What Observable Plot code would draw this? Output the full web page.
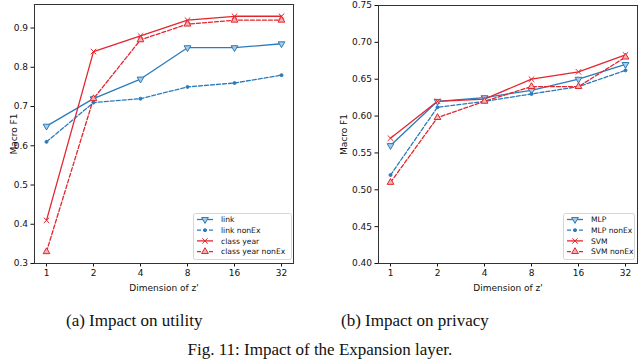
<!DOCTYPE html>
<html>
<head>
<meta charset="utf-8">
<script src="https://cdn.jsdelivr.net/npm/d3@7"></script>
<script src="https://cdn.jsdelivr.net/npm/@observablehq/plot@0.6"></script>
<style>
  body { margin: 0; background: #fff; }
  #wrap { position: relative; width: 640px; height: 362px; overflow: hidden; background: #fff; }
  .panel { position: absolute; top: 0; }
  .cap { position: absolute; font-family: "Liberation Serif", "Times New Roman", serif; font-size: 17px; line-height: 18px; color: #111; white-space: nowrap; }
  .legend { position: absolute; }
</style>
</head>
<body>
<div id="wrap"></div>
<script>
// ---- data ----
const dims = ["1", "2", "4", "8", "16", "32"];

// (a) utility
const linkVals          = [0.65, 0.72, 0.77, 0.85, 0.85, 0.86];
const linkNonExVals     = [0.61, 0.71, 0.72, 0.75, 0.76, 0.78];
const classYearVals     = [0.41, 0.84, 0.88, 0.92, 0.93, 0.93];
const classYearNonExVals= [0.33, 0.72, 0.87, 0.91, 0.92, 0.92];
const utilityNames = ["link", "link nonEx", "class year", "class year nonEx"];
const utilityTicks = [0.3, 0.4, 0.5, 0.6, 0.7, 0.8, 0.9];

// (b) privacy
const mlpVals      = [0.56, 0.62, 0.625, 0.635, 0.65, 0.67];
const mlpNonExVals = [0.52, 0.612, 0.62, 0.63, 0.64, 0.662];
const svmVals      = [0.57, 0.62, 0.623, 0.65, 0.66, 0.683];
const svmNonExVals = [0.51, 0.598, 0.62, 0.64, 0.64, 0.68];
const privacyNames = ["MLP", "MLP nonEx", "SVM", "SVM nonEx"];
const privacyTicks = [0.40, 0.45, 0.50, 0.55, 0.60, 0.65, 0.70, 0.75];

// ---- styles ----
const BLUE = "#2b7bba", RED = "#e3262d";
const BLUE_FILL = "#a9cbe8", RED_FILL = "#f5b3b5";
const styles = [
  {stroke: BLUE, dash: null,  symbol: "triangle", rotate: 180, fill: BLUE_FILL, r: 2.5},
  {stroke: BLUE, dash: "4,2", symbol: "circle",   rotate: 0,   fill: BLUE,      r: 1.5},
  {stroke: RED,  dash: null,  symbol: "times",    rotate: 0,   fill: "none",    r: 2.6},
  {stroke: RED,  dash: "4,2", symbol: "triangle", rotate: 0,   fill: RED_FILL,  r: 2.5}
];

function rows(vals) { return dims.map((d, i) => ({dim: d, v: vals[i]})); }

function makePanel({series, yDomain, yTicks, yFmt, marginLeft, marginTop, width}) {
  const marks = [];
  series.forEach((vals, k) => {
    const s = styles[k];
    const data = rows(vals);
    marks.push(Plot.line(data, {x: "dim", y: "v", stroke: s.stroke, strokeWidth: 1.3,
      strokeDasharray: s.dash || undefined}));
  });
  series.forEach((vals, k) => {
    const s = styles[k];
    const data = rows(vals);
    marks.push(Plot.dot(data, {x: "dim", y: "v", symbol: () => s.symbol, r: s.r,
      rotate: s.rotate, stroke: s.stroke, fill: s.fill, strokeWidth: 1}));
  });
  marks.push(Plot.axisY({ticks: yTicks, tickFormat: yFmt, tickSize: 3.5, tickPadding: 3,
    label: "Macro F1", labelAnchor: "center", labelArrow: "none", labelOffset: marginLeft - 10}));
  marks.push(Plot.axisX({tickSize: 3.5, tickPadding: 3, label: "Dimension of z'",
    labelAnchor: "center", labelArrow: "none", labelOffset: 27}));
  marks.push(Plot.frame({stroke: "#333", strokeWidth: 1}));
  return Plot.plot({
    width, height: 300,
    marginLeft, marginTop, marginRight: width - marginLeft - 259, marginBottom: 37,
    style: {fontFamily: "DejaVu Sans, sans-serif", fontSize: "9px", color: "#111", background: "#fff", overflow: "visible"},
    x: {type: "point", domain: dims, padding: 0.25},
    y: {domain: yDomain},
    symbol: {type: "identity"},
    marks
  });
}

function makeLegend(names, w) {
  const h = 47;
  const svg = d3.create("svg").attr("width", w).attr("height", h)
    .style("overflow", "visible");
  svg.append("rect").attr("x", 0.5).attr("y", 0.5).attr("width", w - 1).attr("height", h - 1)
    .attr("rx", 2).attr("fill", "#fff").attr("fill-opacity", 0.85).attr("stroke", "#ccc").attr("stroke-width", 0.8);
  const symMap = {triangle: d3.symbolTriangle, circle: d3.symbolCircle, times: d3.symbolTimes};
  names.forEach((name, k) => {
    const s = styles[k];
    const y = 6.5 + k * 10.7;
    svg.append("line").attr("x1", 4).attr("x2", 20).attr("y1", y).attr("y2", y)
      .attr("stroke", s.stroke).attr("stroke-width", 1.3)
      .attr("stroke-dasharray", s.dash || null);
    const size = Math.PI * s.r * s.r;
    svg.append("path").attr("d", d3.symbol(symMap[s.symbol], size)())
      .attr("transform", `translate(12,${y}) rotate(${s.rotate})`)
      .attr("stroke", s.stroke).attr("fill", s.fill).attr("stroke-width", 1);
    svg.append("text").attr("x", 28).attr("y", y).attr("dy", "0.35em")
      .attr("font-family", "DejaVu Sans, sans-serif").attr("font-size", 7.6).attr("fill", "#111")
      .text(name);
  });
  return svg.node();
}

const wrap = document.getElementById("wrap");

const left = makePanel({
  series: [linkVals, linkNonExVals, classYearVals, classYearNonExVals],
  yDomain: [0.30, 0.96], yTicks: utilityTicks, yFmt: d3.format(".1f"),
  marginLeft: 34, marginTop: 4, width: 310
});
left.classList.add("panel");
left.style.left = "0px";
wrap.appendChild(left);

const right = makePanel({
  series: [mlpVals, mlpNonExVals, svmVals, svmNonExVals],
  yDomain: [0.40, 0.75], yTicks: privacyTicks, yFmt: d3.format(".2f"),
  marginLeft: 48, marginTop: 5, width: 310
});
right.classList.add("panel");
right.style.left = "330px";
wrap.appendChild(right);

const lg1 = makeLegend(utilityNames, 99);
lg1.classList.add("legend");
lg1.style.left = "193px"; lg1.style.top = "213px";
wrap.appendChild(lg1);

const lg2 = makeLegend(privacyNames, 72);
lg2.classList.add("legend");
lg2.style.left = "563px"; lg2.style.top = "213px";
wrap.appendChild(lg2);

function cap(text, cx, top, size) {
  const d = document.createElement("div");
  d.className = "cap";
  d.textContent = text;
  d.style.top = top + "px";
  if (size) d.style.fontSize = size + "px";
  wrap.appendChild(d);
  d.style.left = (cx - d.offsetWidth / 2) + "px";
}
cap("(a) Impact on utility", 134, 312);
cap("(b) Impact on privacy", 415, 312);
cap("Fig. 11: Impact of the Expansion layer.", 320, 341, 17);
</script>
</body>
</html>
